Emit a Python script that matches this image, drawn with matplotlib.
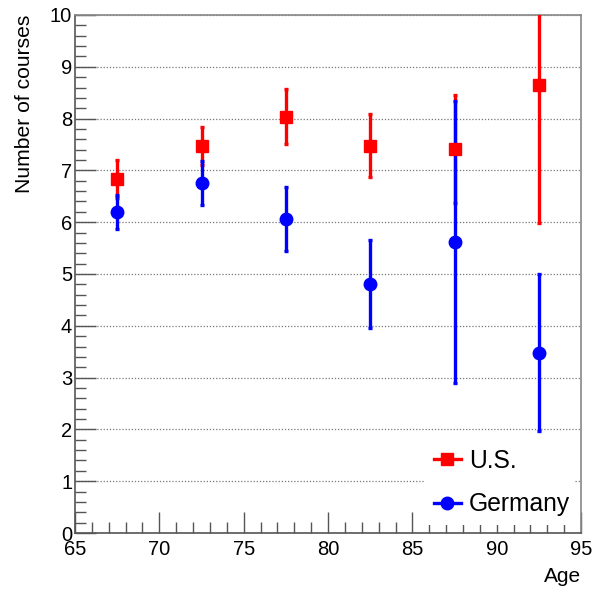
import numpy as np
import matplotlib.pyplot as plt
from matplotlib.lines import Line2D
from matplotlib.ticker import MultipleLocator
from matplotlib.transforms import blended_transform_factory

plt.rcParams['font.family'] = ['Liberation Sans', 'DejaVu Sans']

# Age bins (centres) and mean number of courses with errors
age = [67.5, 72.5, 77.5, 82.5, 87.5, 92.5]
us_mean = [6.83, 7.47, 8.04, 7.48, 7.42, 8.64]
us_err = [0.37, 0.37, 0.53, 0.61, 1.04, 2.66]
de_mean = [6.20, 6.76, 6.06, 4.81, 5.62, 3.48]
de_err = [0.33, 0.43, 0.62, 0.85, 2.72, 1.52]

fig = plt.figure(figsize=(5.94, 5.90), dpi=100)
ax = fig.add_axes([0.1263, 0.0966, 0.8519, 0.878])

ax.errorbar(age, us_mean, yerr=us_err, fmt='s', color='#ff0000', ms=8.5,
            elinewidth=2.4, capsize=1.5, capthick=2.4, zorder=3)
ax.errorbar(age, de_mean, yerr=de_err, fmt='o', color='#0000ff', ms=9,
            elinewidth=2.4, capsize=1.5, capthick=2.4, zorder=3)

ax.set_xlim(65, 95)
ax.set_ylim(0, 10)
ax.xaxis.set_major_locator(MultipleLocator(5))
ax.xaxis.set_minor_locator(MultipleLocator(1))
ax.yaxis.set_major_locator(MultipleLocator(1))
ax.yaxis.set_minor_locator(MultipleLocator(0.2))

ax.tick_params(axis='both', which='both', direction='in', color='#555555',
               labelsize=14.5, top=False, right=False)
ax.tick_params(axis='both', which='major', length=15, width=1)
ax.tick_params(axis='both', which='minor', length=8, width=1)
ax.tick_params(axis='x', pad=5)
ax.tick_params(axis='y', pad=2)

ax.grid(axis='y', which='major', linestyle=(0, (1, 1.5)), color='#777777',
        linewidth=0.9, zorder=0)

for side in ['left', 'bottom']:
    ax.spines[side].set_color('#555555')
    ax.spines[side].set_linewidth(1.2)
for side in ['top', 'right']:
    ax.spines[side].set_color('#888888')
    ax.spines[side].set_linewidth(1.2)

trans = blended_transform_factory(fig.transFigure, ax.transAxes)
ax.text(25 / 594, 1.0, 'Number of courses', rotation=90, ha='center',
        va='top', fontsize=15.2, transform=trans)
ax.text(1.0, -0.084, 'Age', ha='right', va='center', fontsize=15,
        transform=ax.transAxes)

handles = [
    Line2D([], [], color='#ff0000', marker='s', ms=8.5, lw=2.4),
    Line2D([], [], color='#0000ff', marker='o', ms=9, lw=2.4),
]
leg = ax.legend(handles, ['U.S.', 'Germany'], loc='lower left',
                bbox_to_anchor=(425 / 594, 1 - 525 / 590, 150 / 594, 95 / 590),
                bbox_transform=fig.transFigure, mode='expand', fontsize=17.7,
                frameon=True, fancybox=False, handlelength=1.1,
                handletextpad=0.35, labelspacing=0.8, borderpad=0.35,
                borderaxespad=0)
leg.get_frame().set_facecolor('white')
leg.get_frame().set_edgecolor('none')
leg.get_frame().set_alpha(1)

fig.savefig('out.png', dpi=100)
